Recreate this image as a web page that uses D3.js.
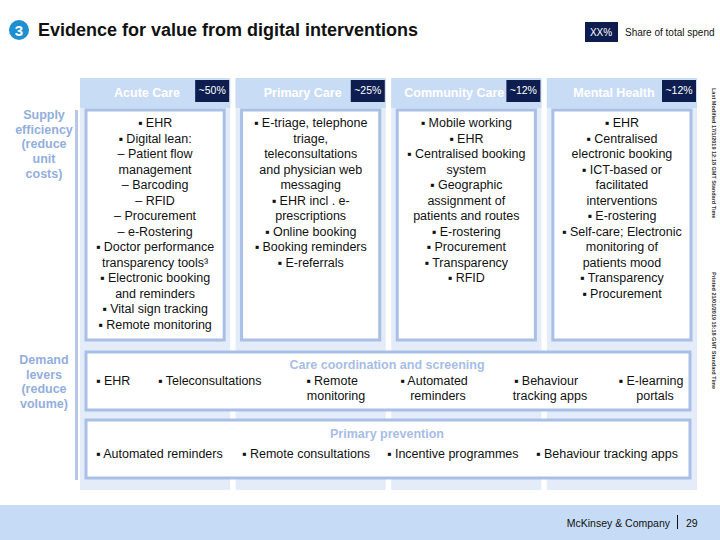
<!DOCTYPE html>
<html><head><meta charset="utf-8">
<script src="https://cdn.jsdelivr.net/npm/d3@7"></script>
<style>body{margin:0;background:#fff}svg text{font-family:"Liberation Sans Narrow","Liberation Sans",Arial,sans-serif}</style>
</head><body><svg id="c" width="720" height="540"></svg>
<script>
const categories=["Acute Care","Primary Care","Community Care","Mental Health"];
const shares=["~50%","~25%","~12%","~12%"];
const supplyItems=[
["▪  EHR","▪  Digital lean:","–   Patient flow","management","–   Barcoding","–   RFID","–   Procurement","–   e-Rostering","▪  Doctor performance","transparency tools³","▪  Electronic booking","and reminders","▪  Vital sign tracking","▪  Remote monitoring"],
["▪  E-triage, telephone","triage,","teleconsultations","and physician web","messaging","▪  EHR  incl . e-","prescriptions","▪  Online booking","▪  Booking reminders","▪  E-referrals"],
["▪  Mobile working","▪  EHR","▪  Centralised booking","system","▪  Geographic","assignment of","patients and routes","▪  E-rostering","▪  Procurement","▪  Transparency","▪  RFID"],
["▪  EHR","▪  Centralised","electronic booking","▪  ICT-based or","facilitated","interventions","▪  E-rostering","▪  Self-care; Electronic","monitoring of","patients mood","▪  Transparency","▪  Procurement"]];
const careItems=[["EHR"],["Teleconsultations"],["Remote","monitoring"],["Automated","reminders"],["Behaviour","tracking apps"],["E-learning","portals"]];
const careX=[96,158,332,434,546,651];
const careAnchor=["start","start","middle","middle","middle","middle"];
const preventionItems=["Automated reminders","Remote consultations","Incentive programmes","Behaviour tracking apps"];
const preventionX=[96,242,387,536];

const svg=d3.select("#c");
const x=d3.scaleBand().domain(categories).range([80,697]).paddingInner(0.035);
const lineY=d3.scaleLinear().domain([0,1]).range([123,138.5]);
const headerShift=[-8,-8,-12,-8];
svg.append("circle").attr("cx",19).attr("cy",30).attr("r",10).attr("fill","#1f8fd1");
svg.append("text").attr("x",19).attr("y",36).attr("text-anchor","middle").attr("fill","#fff").attr("font-size",15).attr("font-weight","bold").text("3");
svg.append("text").attr("x",38).attr("y",36).attr("font-size",18).attr("font-weight","bold").attr("fill","#111").style("font-family","Liberation Sans,Arial").text("Evidence for value from digital interventions");
svg.append("rect").attr("x",585).attr("y",22).attr("width",33).attr("height",20).attr("fill","#0d1d4f");
svg.append("text").attr("x",601).attr("y",36).attr("text-anchor","middle").attr("fill","#fff").attr("font-size",10).text("XX%");
svg.append("text").attr("x",625).attr("y",36).attr("font-size",10).attr("fill","#111").text("Share of total spend");
const g=svg.selectAll("g.col").data(categories).join("g");
g.append("rect").attr("x",d=>x(d)).attr("y",78).attr("width",x.bandwidth()).attr("height",412).attr("fill","#e3ecf8");
g.append("rect").attr("x",d=>x(d)).attr("y",78).attr("width",x.bandwidth()).attr("height",30).attr("fill","#c9dcf5");
g.append("text").attr("x",(d,i)=>x(d)+x.bandwidth()/2+headerShift[i]).attr("y",97).attr("text-anchor","middle").attr("fill","#fff").attr("font-size",12.5).attr("font-weight","bold").text(d=>d);
g.append("rect").attr("x",d=>x(d)+x.bandwidth()-35).attr("y",80).attr("width",34).attr("height",22).attr("fill","#0d1d4f");
g.append("text").attr("x",d=>x(d)+x.bandwidth()-18).attr("y",94).attr("text-anchor","middle").attr("fill","#fff").attr("font-size",10.5).text((d,i)=>shares[i]);
g.append("rect").attr("x",d=>x(d)+6).attr("y",110).attr("width",x.bandwidth()-12).attr("height",230).attr("fill","#fff").attr("stroke","#a9bfe6").attr("stroke-width",3);
g.each(function(d,i){
  d3.select(this).selectAll("text.it").data(supplyItems[i]).join("text")
   .attr("x",x(d)+x.bandwidth()/2).attr("y",(t,j)=>lineY(j)+4).attr("text-anchor","middle")
   .attr("font-size",12.5).attr("fill","#111").text(t=>t);
});
svg.append("rect").attr("x",75).attr("y",110).attr("width",3).attr("height",370).attr("fill","#b7c8e6");
const lab=(lines,y0)=>lines.forEach((t,i)=>svg.append("text").attr("x",44).attr("y",y0+i*14.7).attr("text-anchor","middle").attr("font-size",12.5).attr("font-weight","bold").attr("fill","#94aedd").text(t));
lab(["Supply","efficiency","(reduce","unit","costs)"],119);
lab(["Demand","levers","(reduce","volume)"],364);
[[352,58],[420,58]].forEach(([y,h])=>svg.append("rect").attr("x",86).attr("y",y).attr("width",604).attr("height",h).attr("fill","#fff").attr("stroke","#a9bfe6").attr("stroke-width",3));
svg.append("text").attr("x",387).attr("y",369).attr("text-anchor","middle").attr("font-size",12.5).attr("font-weight","bold").attr("fill","#a8bde6").text("Care coordination and screening");
svg.append("text").attr("x",387).attr("y",438).attr("text-anchor","middle").attr("font-size",12.5).attr("font-weight","bold").attr("fill","#a8bde6").text("Primary prevention");
careItems.forEach((lines,i)=>{
  const a=careAnchor[i];
  svg.append("text").attr("x",careX[i]).attr("y",385).attr("text-anchor",a).attr("font-size",12.5).attr("fill","#111").text("▪  "+lines[0]);
  if(lines[1]) svg.append("text").attr("x",careX[i]+4).attr("y",400).attr("text-anchor",a).attr("font-size",12.5).attr("fill","#111").text(lines[1]);
});
preventionItems.forEach((t,i)=>svg.append("text").attr("x",preventionX[i]).attr("y",458).attr("font-size",12.5).attr("fill","#111").text("▪  "+t));
svg.append("rect").attr("x",0).attr("y",505).attr("width",720).attr("height",35).attr("fill","#c6dbf6");
svg.append("text").attr("x",670).attr("y",527).attr("text-anchor","end").attr("font-size",10.5).attr("fill","#111").text("McKinsey & Company");
svg.append("rect").attr("x",677).attr("y",515).attr("width",1).attr("height",14).attr("fill","#111");
svg.append("text").attr("x",686).attr("y",527).attr("font-size",10.5).attr("fill","#111").text("29");
[["Last Modified 17/1/2019 12:18 GMT Standard Time",88],["Printed 21/01/2019 15:18 GMT Standard Time",272]].forEach(([t,y])=>
 svg.append("text").attr("transform",`translate(712,${y}) rotate(90)`).attr("font-size",5.5).attr("font-weight","bold").attr("fill","#333").text(t));
</script></body></html>
